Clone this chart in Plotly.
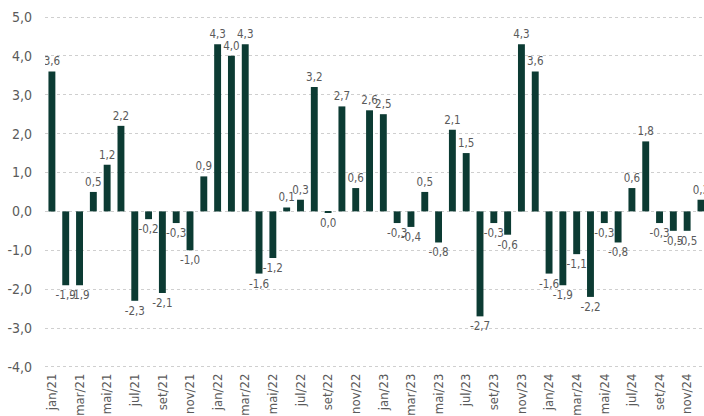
import plotly.graph_objects as go

months = [f"{m}/{y}" for y in ["21", "22", "23", "24"]
          for m in ["jan", "fev", "mar", "abr", "mai", "jun",
                    "jul", "ago", "set", "out", "nov", "dez"]]

values = [3.6, -1.9, -1.9, 0.5, 1.2, 2.2, -2.3, -0.2, -2.1, -0.3, -1.0, 0.9,
          4.3, 4.0, 4.3, -1.6, -1.2, 0.1, 0.3, 3.2, -0.04, 2.7, 0.6, 2.6,
          2.5, -0.3, -0.4, 0.5, -0.8, 2.1, 1.5, -2.7, -0.3, -0.6, 4.3, 3.6,
          -1.6, -1.9, -1.1, -2.2, -0.3, -0.8, 0.6, 1.8, -0.3, -0.5, -0.5, 0.3]

labels = [f"{abs(v):.1f}".replace(".", ",") if round(v, 1) == 0
          else f"{v:.1f}".replace(".", ",") for v in values]

xs = list(range(len(months)))
tick_idx = xs[::2]
tick_text = [months[i] for i in tick_idx]
boundary_ticks = [i - 0.5 for i in tick_idx]

FONT = "Liberation Sans Narrow, DejaVu Sans Condensed, Arial Narrow, sans-serif"
BAR = "#0c3b33"
TXT = "#5a5a5a"

y_min, y_max = -4.08, 5.18

fig = go.Figure()
fig.add_trace(go.Bar(
    x=xs, y=values, width=0.5,
    marker=dict(color=BAR, line=dict(width=0)),
    text=labels, textposition="outside", constraintext="none",
    textfont=dict(family=FONT, size=11.5, color=TXT),
    cliponaxis=True, hoverinfo="skip", showlegend=False,
))

fig.update_layout(
    width=704, height=416,
    margin=dict(l=45, r=0, t=10, b=44),
    paper_bgcolor="white", plot_bgcolor="white",
    font=dict(family=FONT, color=TXT),
    bargap=0.5,
    xaxis=dict(
        range=[-0.5, 47.22], tickmode="array", tickvals=tick_idx,
        ticktext=tick_text, tickangle=-90, showgrid=False, zeroline=False,
        showline=False, ticks="", tickfont=dict(family=FONT, size=13, color=TXT),
    ),
    xaxis2=dict(
        overlaying="x", anchor="free", position=(0 - y_min) / (y_max - y_min),
        range=[-0.5, 47.22], tickmode="array", tickvals=boundary_ticks,
        showticklabels=False, ticks="outside", ticklen=4, tickcolor="#e2d6d6",
        showline=True, linecolor="#e2d6d6", linewidth=1, showgrid=False,
        zeroline=False, side="bottom",
    ),
    yaxis=dict(
        range=[y_min, y_max], tickmode="array",
        tickvals=[-4, -3, -2, -1, 0, 1, 2, 3, 4, 5],
        ticktext=[f"{v:.1f}".replace(".", ",") for v in [-4, -3, -2, -1, 0, 1, 2, 3, 4, 5]],
        showgrid=True, gridcolor="#cfcfcf", griddash="dot", gridwidth=1,
        zeroline=False, showline=False, ticks="", ticklabelstandoff=12,
        tickfont=dict(family=FONT, size=14, color=TXT),
    ),
)

fig.write_html("out.html")
